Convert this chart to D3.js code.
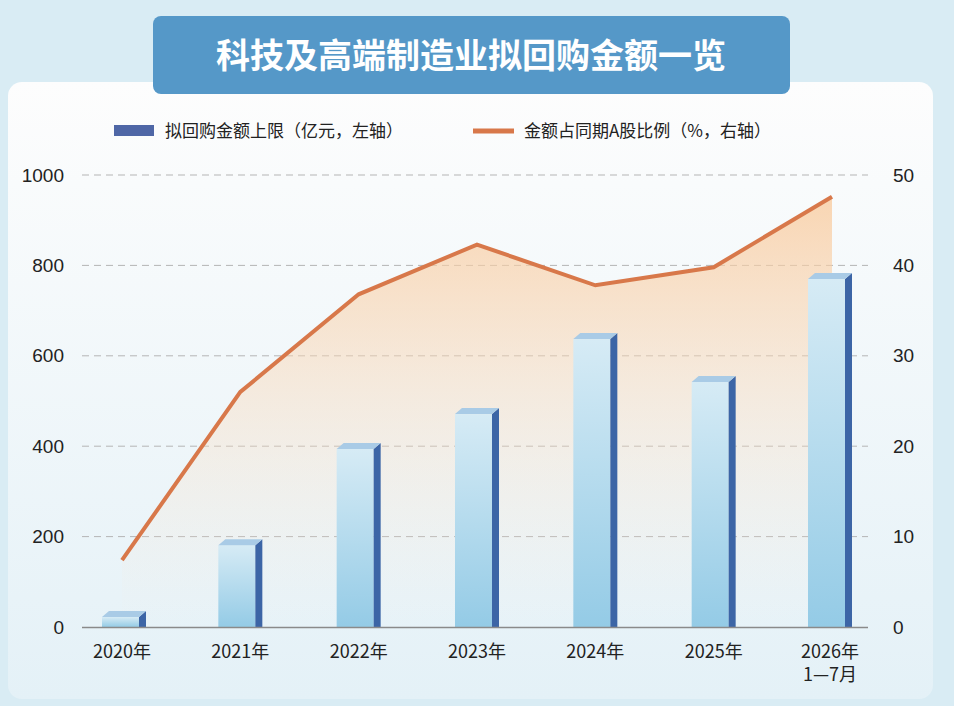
<!DOCTYPE html>
<html><head><meta charset="utf-8">
<script src="https://cdn.jsdelivr.net/npm/d3@7"></script>
<style>body{margin:0;background:#d9ecf4;}svg{display:block;font-family:"Noto Sans CJK SC","Noto Sans",sans-serif;}</style>
</head><body><svg id="c" width="954" height="706"></svg>
<script>
const categories=["2020年","2021年","2022年","2023年","2024年","2025年","2026年\n1—7月"];
const amounts=[22,181,394,471,637,542,770];
const ratios=[7.4,26.0,36.8,42.3,37.8,39.8,47.6];
const leftTicks=[0,200,400,600,800,1000];
const rightTicks=[0,10,20,30,40,50];

const svg=d3.select("#c");
const defs=svg.append("defs");
const bg=defs.append("linearGradient").attr("id","bg").attr("x1",0).attr("y1",0).attr("x2",0).attr("y2",1);
bg.append("stop").attr("offset","0").attr("stop-color","#fdfdfd");
bg.append("stop").attr("offset","1").attr("stop-color","#e4f1f7");
const bar=defs.append("linearGradient").attr("id","bar").attr("x1",0).attr("y1",0).attr("x2",0).attr("y2",1);
bar.append("stop").attr("offset","0").attr("stop-color","#d6ebf5");
bar.append("stop").attr("offset","1").attr("stop-color","#94cbe6");
const ar=defs.append("linearGradient").attr("id","ar").attr("x1",0).attr("y1",0).attr("x2",0).attr("y2",1);
ar.append("stop").attr("offset","0").attr("stop-color","#f9c99a").attr("stop-opacity",0.75);
ar.append("stop").attr("offset","1").attr("stop-color","#fbe9d8").attr("stop-opacity",0);

svg.append("rect").attr("x",8).attr("y",82).attr("width",925).attr("height",617).attr("rx",14).attr("fill","url(#bg)");
svg.append("rect").attr("x",153).attr("y",16).attr("width",637).attr("height",78).attr("rx",8).attr("fill","#5598c8");
svg.append("text").attr("x",471).attr("y",68).attr("text-anchor","middle").attr("fill","#fff").attr("font-size",34).attr("font-weight","bold").text("科技及高端制造业拟回购金额一览");

const y=d3.scaleLinear().domain([0,1000]).range([627,175]);
const y2=d3.scaleLinear().domain([0,50]).range([627,175]);
const x=d3.scalePoint().domain(categories).range([122,832]);

svg.append("g").selectAll("line").data(leftTicks.slice(1)).join("line")
 .attr("x1",82).attr("x2",868).attr("y1",d=>y(d)).attr("y2",d=>y(d))
 .attr("stroke","#b5b5b5").attr("stroke-dasharray","7,5").attr("stroke-width",1);

const pts=categories.map((c,i)=>[x(c),y2(ratios[i])]);
svg.append("path").datum(pts).attr("fill","url(#ar)")
 .attr("d",d3.area().x(d=>d[0]).y0(627).y1(d=>d[1]));

const bw=44,dx=7,dy=6;
const g=svg.append("g");
categories.forEach((c,i)=>{
  const cx=x(c)+(i==0?2:(i==6?-2:0)), top=y(amounts[i]), l=cx-bw/2;
  g.append("rect").attr("x",l).attr("y",top).attr("width",bw-dx).attr("height",627-top).attr("fill","url(#bar)");
  g.append("path").attr("d",`M${l+bw-dx},${top}L${l+bw},${top-dy}L${l+bw},627L${l+bw-dx},627Z`).attr("fill","#3c65a6");
  g.append("path").attr("d",`M${l},${top}L${l+dx},${top-dy}L${l+bw},${top-dy}L${l+bw-dx},${top}Z`).attr("fill","#a9cbe6");
});
svg.append("line").attr("x1",82).attr("x2",868).attr("y1",627.5).attr("y2",627.5).attr("stroke","#8a8a8a").attr("stroke-width",1.5);

svg.append("path").datum(pts).attr("fill","none").attr("stroke","#d8784a").attr("stroke-width",4)
 .attr("d",d3.line().x(d=>d[0]).y(d=>d[1]));

const axL=d3.axisLeft(y).tickValues(leftTicks).tickFormat(d3.format("d")).tickSize(0).tickPadding(0);
const gl=svg.append("g").attr("transform","translate(64,0)").call(axL);
gl.select(".domain").remove();
gl.selectAll("text").attr("font-size",19).attr("fill","#222").attr("font-family","Liberation Sans,Arial,sans-serif");
const axR=d3.axisRight(y2).tickValues(rightTicks).tickSize(0).tickPadding(0);
const gr=svg.append("g").attr("transform","translate(893,0)").call(axR);
gr.select(".domain").remove();
gr.selectAll("text").attr("font-size",19).attr("fill","#222").attr("font-family","Liberation Sans,Arial,sans-serif");

const xl=svg.append("g");
categories.forEach(c=>{
  const lines=c.split("\n");
  const xx=x(c)+(c.includes("2026")?-2:0);
  lines.forEach((s,j)=>xl.append("text").attr("x",xx).attr("y",658+j*23).attr("text-anchor","middle").attr("font-size",18).attr("fill","#222").text(s));
});

svg.append("rect").attr("x",114).attr("y",125).attr("width",40).attr("height",11).attr("fill","#4f67a6");
svg.append("text").attr("x",165).attr("y",137).attr("font-size",17).attr("fill","#222").text("拟回购金额上限（亿元，左轴）");
svg.append("line").attr("x1",473).attr("x2",514).attr("y1",131).attr("y2",131).attr("stroke","#d8784a").attr("stroke-width",5);
svg.append("text").attr("x",524).attr("y",137).attr("font-size",17).attr("fill","#222").text("金额占同期A股比例（%，右轴）");
</script></body></html>
